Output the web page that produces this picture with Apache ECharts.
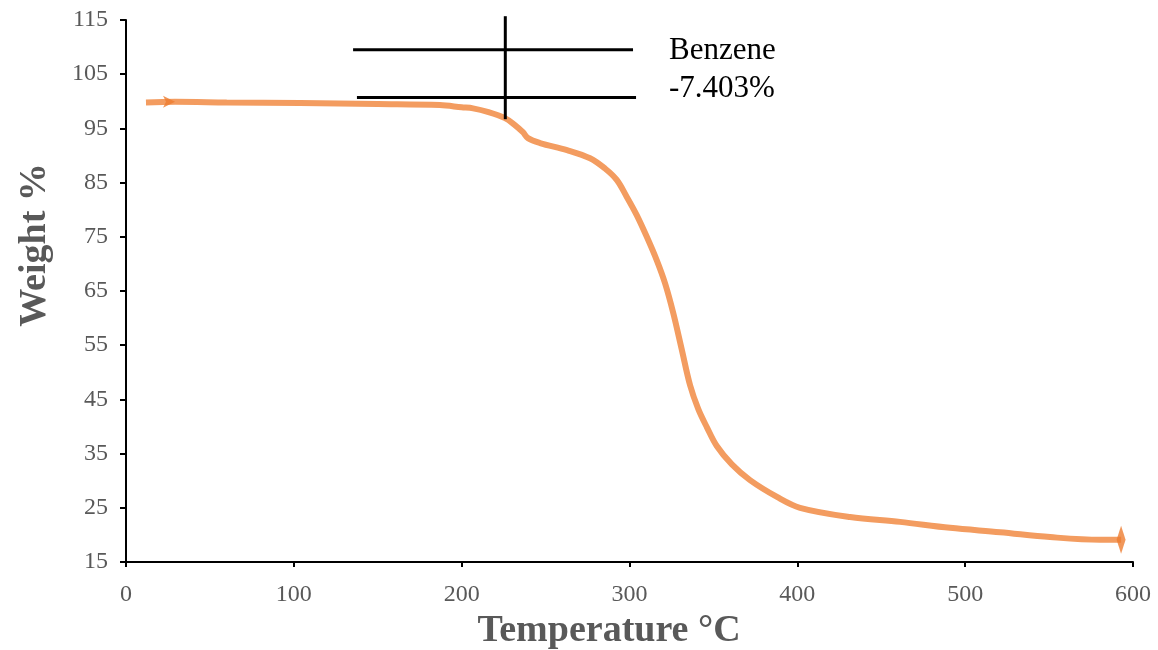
<!DOCTYPE html>
<html>
<head>
<meta charset="utf-8">
<script src="https://cdn.jsdelivr.net/npm/echarts@6/dist/echarts.min.js"></script>
<style>
  html, body { margin: 0; padding: 0; background: #fff; }
  #chart { width: 1158px; height: 650px; }
</style>
</head>
<body>
<div id="chart"></div>
<script>
// TGA curve: temperature (°C) and remaining weight (%)
const temperature = [11.9, 29.2, 60, 103.7, 150, 187, 200, 206.8, 216, 225.8, 231, 236.5, 239.5, 246.7, 262.8, 276.5, 285.4, 292.4, 298.3, 304.3, 310.3, 316.2, 321.2, 326.1, 331, 336.1, 341, 346.2, 352, 361, 371.8, 387.9, 401.6, 431.4, 461.2, 491.0, 520.8, 550.6, 580.3, 592.9];
const weight      = [99.8, 99.9, 99.8, 99.7, 99.5, 99.3, 98.9, 98.7, 98.0, 96.9, 95.8, 94.3, 93.2, 92.3, 91.0, 89.5, 87.6, 85.5, 82.4, 79.0, 75.0, 70.7, 66.4, 60.9, 54.4, 47.6, 43.2, 39.8, 36.4, 33.0, 30.1, 27.0, 25.0, 23.3, 22.4, 21.3, 20.5, 19.6, 19.1, 19.1];

// Step marker for the benzene loss
const stepUpper = [[135.3, 109.5], [302.1, 109.5]];
const stepLower = [[137.6, 100.7], [303.9, 100.7]];
const stepVertical = [[226.0, 115.7], [226.0, 96.7]];
const stepLabel = ['Benzene', '-7.403%'];

const xTicks = { min: 0, max: 600, interval: 100 };
const yTicks = { min: 15, max: 115, interval: 10 };

const curve = temperature.map((t, i) => [t, weight[i]]);

const serif = '"Liberation Serif", "DejaVu Serif", serif';
const grey = '#595959';

const chart = echarts.init(document.getElementById('chart'));
chart.setOption({
  animation: false,
  grid: { left: 126, right: 25, top: 20, bottom: 88 },
  xAxis: {
    type: 'value',
    min: xTicks.min, max: xTicks.max, interval: xTicks.interval,
    axisLine: { lineStyle: { color: '#000', width: 2 } },
    axisTick: { show: true, length: 5, lineStyle: { color: '#000', width: 2 } },
    axisLabel: { color: grey, fontFamily: serif, fontSize: 24, margin: 21 },
    splitLine: { show: false }
  },
  yAxis: {
    type: 'value',
    min: yTicks.min, max: yTicks.max, interval: yTicks.interval,
    axisLine: { show: true, lineStyle: { color: '#000', width: 2 } },
    axisTick: { show: true, length: 6, lineStyle: { color: '#000', width: 2 } },
    axisLabel: { color: grey, fontFamily: serif, fontSize: 24, margin: 18 },
    splitLine: { show: false }
  },
  graphic: [
    {
      type: 'text', x: 609, y: 631,
      style: { text: 'Temperature °C', fill: grey, font: 'bold 38px ' + serif, align: 'center', verticalAlign: 'middle' }
    },
    {
      type: 'text', x: 35, y: 245, rotation: Math.PI / 2,
      style: { text: 'Weight %', fill: grey, font: 'bold 38px ' + serif, align: 'center', verticalAlign: 'middle' }
    },
    {
      type: 'text', x: 669, y: 51,
      style: { text: stepLabel[0], fill: '#000', font: '31px ' + serif, verticalAlign: 'middle' }
    },
    {
      type: 'text', x: 669, y: 89,
      style: { text: stepLabel[1], fill: '#000', font: '31px ' + serif, verticalAlign: 'middle' }
    }
  ],
  series: [
    {
      type: 'line', data: curve, smooth: 0.35, showSymbol: false,
      lineStyle: { color: '#F39C60', width: 6 }, z: 2
    },
    {
      type: 'scatter', z: 3,
      data: [
        { value: curve[1], symbol: 'arrow', symbolRotate: -90, symbolSize: [9, 12] },
        { value: curve[curve.length - 1], symbol: 'diamond', symbolSize: [9, 28] }
      ],
      itemStyle: { color: '#ED7D31' }
    },
    {
      type: 'line', data: stepUpper, showSymbol: false, clip: false,
      lineStyle: { color: '#000', width: 3 }, z: 4
    },
    {
      type: 'line', data: stepLower, showSymbol: false, clip: false,
      lineStyle: { color: '#000', width: 3 }, z: 4
    },
    {
      type: 'line', data: stepVertical, showSymbol: false, clip: false,
      lineStyle: { color: '#000', width: 3 }, z: 4
    }
  ]
});
</script>
</body>
</html>
